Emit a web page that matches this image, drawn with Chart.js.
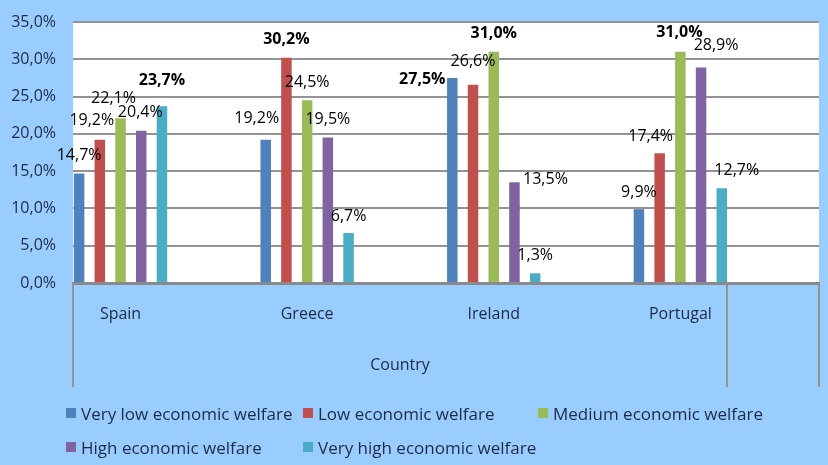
<!DOCTYPE html>
<html>
<head>
<meta charset="utf-8">
<title>Economic welfare by country</title>
<script src="https://cdn.jsdelivr.net/npm/chart.js@4.4.1/dist/chart.umd.min.js"></script>
<style>
body { margin: 0; background: #99ccff; }
#wrap { position: relative; width: 828px; height: 465px; background: #99ccff; overflow: hidden; }
#legend { position: absolute; left: 66px; top: 396px; display: grid; grid-template-columns: 237px 235px auto; grid-auto-rows: 34px; font: 17px 'Open Sans', sans-serif; color: #1f2a44; }
#legend div { display: flex; align-items: center; white-space: nowrap; }
#legend span { display: inline-block; width: 10px; height: 10px; margin-right: 5px; }
</style>
</head>
<body>
<div id="wrap">
  <canvas id="barChart" width="828" height="465"></canvas>
  <div id="legend"></div>
</div>
<script>
// data (percent)
var countries = ['Spain', 'Greece', 'Ireland', 'Portugal'];
var seriesNames = ['Very low economic welfare', 'Low economic welfare', 'Medium economic welfare', 'High economic welfare', 'Very high economic welfare'];
var veryLow  = [14.7, 19.2, 27.5, 9.9];
var low      = [19.2, 30.2, 26.6, 17.4];
var medium   = [22.1, 24.5, 31.0, 31.0];
var high     = [20.4, 19.5, 13.5, 28.9];
var veryHigh = [23.7, 6.7, 1.3, 12.7];
var yTicks   = [0, 5, 10, 15, 20, 25, 30, 35];
var axisTitle = 'Country';

var colors = ['#4f81bd', '#c0504d', '#9bbb59', '#8064a2', '#4bacc6'];
var textColor = '#1f2a44';
var gridColor = '#939393';

// label style: which value labels are bold, and hand nudges [dx, dy] like in the original
var labelBold = [
  [false, false, true, false],
  [false, true, false, false],
  [false, false, true, true],
  [false, false, false, false],
  [true, false, false, false]
];
var labelNudge = [
  [[0, 0], [-9, -3], [-30, 20], [0, 1]],
  [[-8, -1], [0, 0], [0, -5], [-9, 1]],
  [[-7, -2], [0, 0], [0, 0], [-1, -1]],
  [[-1, 0], [0, 0], [31, 15], [15, -4]],
  [[0, -8], [0, 1], [0, 0], [15, 0]]
];

function pct(v) {
  return v.toFixed(1).replace('.', ',') + '%';
}

Chart.defaults.font.family = "'Open Sans', sans-serif";
Chart.defaults.font.size = 16;
Chart.defaults.color = textColor;

// white plot area
var plotBackground = {
  id: 'plotBackground',
  beforeDraw: function (chart) {
    var a = chart.chartArea;
    chart.ctx.save();
    chart.ctx.fillStyle = '#ffffff';
    chart.ctx.fillRect(a.left, a.top, a.right - a.left, a.bottom - a.top);
    chart.ctx.restore();
  }
};

// value labels above the bars
var valueLabels = {
  id: 'valueLabels',
  afterDatasetsDraw: function (chart) {
    var ctx = chart.ctx;
    ctx.save();
    ctx.textAlign = 'center';
    ctx.textBaseline = 'middle';
    ctx.fillStyle = '#000000';
    chart.data.datasets.forEach(function (ds, d) {
      chart.getDatasetMeta(d).data.forEach(function (bar, i) {
        var n = labelNudge[d][i];
        ctx.font = (labelBold[d][i] ? 'bold ' : '') + "16px 'Open Sans', sans-serif";
        ctx.fillText(pct(ds.data[i].y), bar.x + n[0], bar.y - 18 + n[1]);
      });
    });
    ctx.restore();
  }
};

// the bracket lines under the axis (multi level category look) and its title
var axisBrackets = {
  id: 'axisBrackets',
  afterDraw: function (chart) {
    var ctx = chart.ctx;
    var xs = chart.scales.x;
    var a = chart.chartArea;
    var split = xs.getPixelForValue(countries.length - 0.75);
    ctx.save();
    ctx.strokeStyle = gridColor;
    ctx.lineWidth = 2;
    [a.left, split, a.right].forEach(function (x) {
      ctx.beginPath();
      ctx.moveTo(x, a.bottom);
      ctx.lineTo(x, xs.bottom - 1);
      ctx.stroke();
    });
    ctx.fillStyle = textColor;
    ctx.font = "16px 'Open Sans', sans-serif";
    ctx.textAlign = 'center';
    ctx.textBaseline = 'middle';
    ctx.fillText(axisTitle, (a.left + split) / 2, xs.bottom - 23);
    ctx.restore();
  }
};

var series = [veryLow, low, medium, high, veryHigh];
var datasets = series.map(function (vals, s) {
  return {
    label: seriesNames[s],
    backgroundColor: colors[s],
    borderWidth: 0,
    categoryPercentage: 0.555,
    barPercentage: 0.507,
    data: vals.map(function (v, i) { return { x: i, y: v }; })
  };
});

var chart = new Chart(document.getElementById('barChart').getContext('2d'), {
  type: 'bar',
  data: { datasets: datasets },
  options: {
    responsive: false,
    animation: false,
    layout: { padding: { top: 22, right: 9, bottom: 77, left: 0 } },
    plugins: {
      legend: { display: false },
      tooltip: { enabled: false }
    },
    scales: {
      x: {
        type: 'linear',
        min: -0.2547,
        max: 3.743,
        offset: false,
        bounds: 'data',
        grid: { display: false },
        border: { display: true, color: '#8a8a8a', width: 3 },
        afterBuildTicks: function (scale) {
          scale.ticks = countries.map(function (c, i) { return { value: i }; });
        },
        afterFit: function (scale) { scale.height = 105; },
        ticks: {
          padding: 14,
          autoSkip: false,
          maxRotation: 0,
          color: textColor,
          callback: function (v) { return countries[v] || ''; }
        }
      },
      y: {
        min: 0,
        max: 35,
        border: { display: false },
        grid: { color: gridColor, lineWidth: 2, drawTicks: false },
        afterBuildTicks: function (scale) {
          scale.ticks = yTicks.map(function (v) { return { value: v }; });
        },
        afterFit: function (scale) {
          scale.width = 73;
          // tick padding is horizontal here, keep it out of the top/bottom room
          scale.paddingTop = 10;
          scale.paddingBottom = 10;
        },
        ticks: {
          padding: 17,
          color: textColor,
          callback: function (v) { return pct(v); }
        }
      }
    }
  },
  plugins: [plotBackground, valueLabels, axisBrackets]
});

// html legend in the three column layout
var legendBox = document.getElementById('legend');
chart.data.datasets.forEach(function (ds) {
  var item = document.createElement('div');
  var box = document.createElement('span');
  box.style.background = ds.backgroundColor;
  item.appendChild(box);
  item.appendChild(document.createTextNode(ds.label));
  legendBox.appendChild(item);
});
</script>
</body>
</html>
